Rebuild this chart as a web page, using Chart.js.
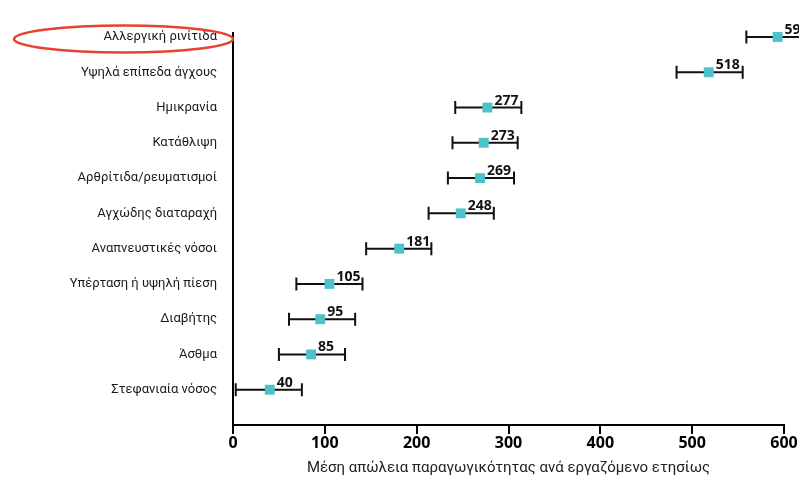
<!DOCTYPE html>
<html>
<head>
<meta charset="utf-8">
<script src="https://cdn.jsdelivr.net/npm/chart.js@4.4.1/dist/chart.umd.min.js"></script>
<style>
  html, body { margin: 0; padding: 0; background: #ffffff; overflow: hidden; }
  #wrap { width: 799px; height: 477px; }
</style>
</head>
<body>
<div id="wrap"><canvas id="c" width="799" height="477"></canvas></div>
<script>
// Chronic conditions, ordered from largest to smallest average loss
const conditions = [
  'Αλλεργική ρινίτιδα',
  'Υψηλά επίπεδα άγχους',
  'Ημικρανία',
  'Κατάθλιψη',
  'Αρθρίτιδα/ρευματισμοί',
  'Αγχώδης διαταραχή',
  'Αναπνευστικές νόσοι',
  'Υπέρταση ή υψηλή πίεση',
  'Διαβήτης',
  'Άσθμα',
  'Στεφανιαία νόσος'
];
// Mean productivity loss per employee per year
const meanLoss   = [593, 518, 277, 273, 269, 248, 181, 105, 95, 85, 40];
// Lower / upper ends of the interval around each mean
const lowerBound = [559, 483, 242, 239, 234, 213, 145, 69, 61, 50, 3];
const upperBound = [630, 555, 314, 310, 306, 284, 216, 141, 133, 122, 75];
const xTicks = [0, 100, 200, 300, 400, 500, 600];
const highlighted = 'Αλλεργική ρινίτιδα';
const axisTitle = 'Μέση απώλεια παραγωγικότητας ανά εργαζόμενο ετησίως';

// Horizontal interval bars with end caps, drawn beneath the markers
const intervalBars = {
  id: 'intervalBars',
  beforeDatasetsDraw(chart) {
    const { ctx, scales: { x, y }, chartArea } = chart;
    ctx.save();
    // short extension of the vertical axis above the first category
    ctx.strokeStyle = '#000';
    ctx.lineWidth = 2;
    ctx.beginPath();
    ctx.moveTo(chartArea.left, chartArea.top - 5);
    ctx.lineTo(chartArea.left, chartArea.top + 1);
    ctx.stroke();
    ctx.strokeStyle = '#111';
    meanLoss.forEach((_, i) => {
      const py = y.getPixelForValue(i);
      const x0 = x.getPixelForValue(lowerBound[i]);
      const x1 = x.getPixelForValue(upperBound[i]);
      ctx.beginPath();
      ctx.moveTo(x0, py); ctx.lineTo(x1, py);
      ctx.moveTo(x0, py - 6.5); ctx.lineTo(x0, py + 6.5);
      ctx.moveTo(x1, py - 6.5); ctx.lineTo(x1, py + 6.5);
      ctx.stroke();
    });
    ctx.restore();
  }
};

// Value labels next to each marker, plus the highlight ring around one category
const annotations = {
  id: 'annotations',
  afterDatasetsDraw(chart) {
    const { ctx, scales: { x, y }, chartArea } = chart;
    ctx.save();
    ctx.fillStyle = '#111';
    ctx.font = 'bold 14px "Open Sans", sans-serif';
    ctx.textAlign = 'left';
    ctx.textBaseline = 'alphabetic';
    meanLoss.forEach((v, i) => {
      const px = x.getPixelForValue(v);
      const py = y.getPixelForValue(i);
      ctx.fillText(String(v), px + 7, py - 3);
    });

    const idx = conditions.indexOf(highlighted);
    const cy = y.getPixelForValue(idx) + 2;
    const leftEdge = 14;
    const rightEdge = chartArea.left;
    ctx.beginPath();
    ctx.ellipse((leftEdge + rightEdge) / 2, cy, (rightEdge - leftEdge) / 2, 13.5, 0, 0, Math.PI * 2);
    ctx.strokeStyle = '#e5432f';
    ctx.lineWidth = 2.5;
    ctx.stroke();
    ctx.restore();
  }
};

new Chart(document.getElementById('c'), {
  type: 'line',
  data: {
    labels: [...conditions, ''],
    datasets: [{
      data: meanLoss,
      showLine: false,
      pointStyle: 'rect',
      pointRadius: 7,
      pointHoverRadius: 7,
      backgroundColor: '#4cc3cb',
      borderColor: '#4cc3cb',
      borderWidth: 0,
      clip: false
    }]
  },
  options: {
    indexAxis: 'y',
    responsive: false,
    animation: false,
    devicePixelRatio: 1,
    layout: { padding: { top: 37, right: 15, left: 0, bottom: 0 } },
    plugins: { legend: { display: false }, tooltip: { enabled: false } },
    scales: {
      x: {
        type: 'linear',
        position: 'bottom',
        min: 0,
        max: 600,
        afterBuildTicks: s => { s.ticks = xTicks.map(v => ({ value: v })); },
        afterFit: s => { s.height = 52; },
        grid: { drawOnChartArea: false, drawTicks: true, tickLength: 9, color: '#000', lineWidth: 2 },
        border: { display: true, color: '#000', width: 2 },
        ticks: {
          color: '#000',
          padding: 0,
          maxRotation: 0,
          font: { family: '"Open Sans", sans-serif', weight: 'bold', size: 16 }
        },
        title: {
          display: true,
          text: axisTitle,
          color: '#222',
          padding: { top: 3, bottom: 0 },
          font: { family: 'Roboto, sans-serif', size: 15 }
        }
      },
      y: {
        type: 'category',
        offset: false,
        afterFit: s => { s.width = 233; },
        grid: { display: true, drawOnChartArea: false, drawTicks: false },
        border: { display: true, color: '#000', width: 2 },
        ticks: {
          color: '#1a1a1a',
          padding: 16,
          autoSkip: false,
          font: { family: 'Roboto, sans-serif', size: 13 }
        }
      }
    }
  },
  plugins: [intervalBars, annotations]
});
</script>
</body>
</html>
